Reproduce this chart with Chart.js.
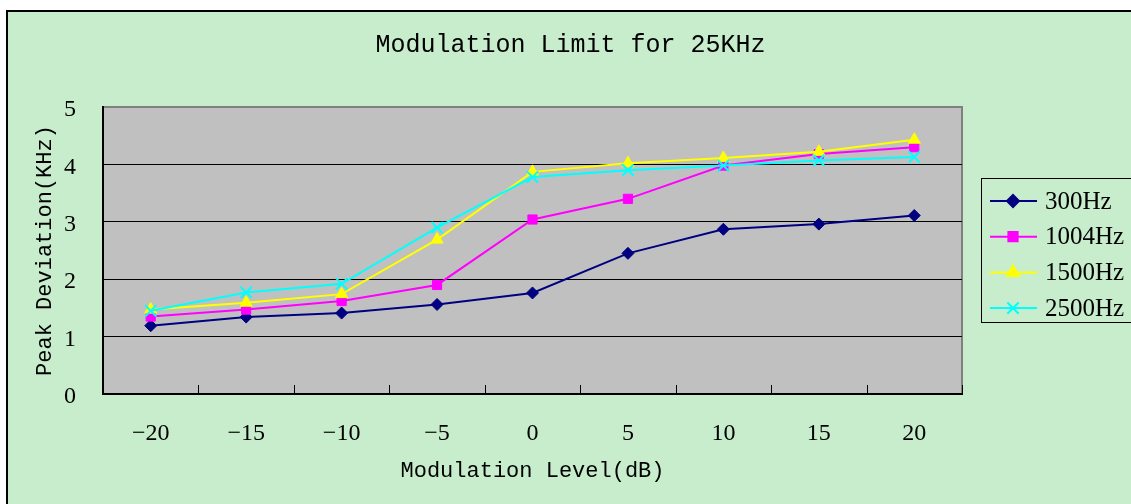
<!DOCTYPE html>
<html><head><meta charset="utf-8">
<script src="https://cdn.jsdelivr.net/npm/chart.js@4/dist/chart.umd.min.js"></script>
<style>
html,body{margin:0;padding:0;background:#fff;overflow:hidden;width:1131px;height:504px}
#frame{position:absolute;left:6px;top:10px;width:1200px;height:600px;background:#C7EDCC;border:2px solid #000;}
#c{position:absolute;left:0;top:0}
</style></head><body>
<div id="frame"></div>
<canvas id="c" width="1131" height="504"></canvas>
<script>
const categories = ['\u221220','\u221215','\u221210','\u22125','0','5','10','15','20'];
const hz300  = [1.19,1.34,1.41,1.56,1.76,2.45,2.87,2.96,3.11];
const hz1004 = [1.35,1.47,1.62,1.90,3.04,3.40,3.98,4.18,4.30];
const hz1500 = [1.47,1.59,1.74,2.69,3.87,4.02,4.11,4.22,4.43];
const hz2500 = [1.45,1.77,1.92,2.90,3.78,3.90,3.98,4.07,4.13];
const seriesNames = ['300Hz','1004Hz','1500Hz','2500Hz'];
const yMin = 0, yMax = 5, yStep = 1;

const seriesStyles = [
  {color:'#000080', pointStyle:'rectRot', radius:6},
  {color:'#FF00FF', pointStyle:'rect', radius:6.5},
  {color:'#FFFF00', pointStyle:'triangle', radius:7},
  {color:'#00FFFF', pointStyle:'crossRot', radius:8}
];
const seriesData = [hz300, hz1004, hz1500, hz2500];

const datasets = seriesData.map((d,i)=>({
  label: seriesNames[i],
  data: d,
  yAxisID: 'y',
  borderColor: seriesStyles[i].color,
  backgroundColor: seriesStyles[i].color,
  pointBackgroundColor: seriesStyles[i].color,
  pointBorderColor: seriesStyles[i].color,
  pointStyle: seriesStyles[i].pointStyle,
  pointRadius: seriesStyles[i].radius,
  pointBorderWidth: seriesStyles[i].pointStyle==='crossRot'?2:1,
  borderWidth: 2,
  tension: 0,
  fill: false,
  order: 4 - i
}));

const plotDeco = {
  id:'plotDeco',
  beforeDraw(chart){
    const {ctx, chartArea:a} = chart;
    ctx.save();
    ctx.fillStyle = '#C0C0C0';
    ctx.fillRect(a.left, a.top, a.right-a.left, a.bottom-a.top);
    ctx.strokeStyle = '#808080';
    ctx.lineWidth = 2;
    ctx.strokeRect(a.left, a.top, a.right-a.left, a.bottom-a.top);
    ctx.restore();
  },
  beforeDatasetsDraw(chart){
    const {ctx, chartArea:a, scales:{x}} = chart;
    const half = (x.getPixelForValue(1) - x.getPixelForValue(0))/2;
    ctx.save();
    ctx.strokeStyle = '#000';
    ctx.lineWidth = 1;
    for (let i=0;i<categories.length;i++){
      const px = Math.round(x.getPixelForValue(i) + half) + 0.5;
      ctx.beginPath();
      ctx.moveTo(px, a.bottom);
      ctx.lineTo(px, a.bottom - 9);
      ctx.stroke();
    }
    ctx.restore();
  },
  afterDraw(chart){
    const {ctx} = chart;
    const box = {x:981, y:178, w:200, h:144};
    ctx.save();
    ctx.strokeStyle = '#000';
    ctx.lineWidth = 1;
    ctx.strokeRect(box.x+0.5, box.y+0.5, box.w, box.h);
    ctx.font = '25px "Liberation Serif", serif';
    ctx.textBaseline = 'middle';
    ctx.textAlign = 'left';
    const rowH = 35.7;
    chart.data.datasets.forEach((ds,i)=>{
      const cy = box.y + 23 + i*rowH;
      ctx.strokeStyle = ds.borderColor;
      ctx.fillStyle = ds.borderColor;
      ctx.lineWidth = 2;
      ctx.beginPath();
      ctx.moveTo(990, cy); ctx.lineTo(1037, cy);
      ctx.stroke();
      Chart.helpers.drawPoint(ctx, {pointStyle: ds.pointStyle, radius: ds.pointRadius, rotation:0, borderWidth: ds.pointBorderWidth}, 1013, cy);
      ctx.fillStyle = '#000';
      ctx.fillText(ds.label, 1045, cy+1);
    });
    ctx.restore();
  }
};

new Chart(document.getElementById('c'), {
  type:'line',
  data:{labels: categories, datasets},
  plugins:[plotDeco],
  options:{
    responsive:false, animation:false,
    layout:{padding:{left:10,right:0,top:0,bottom:0}},
    plugins:{
      legend:{display:false},
      tooltip:{enabled:false},
      title:{display:true, text:'Modulation Limit for 25KHz', color:'#000',
        font:{family:'"Liberation Mono", monospace', size:25, weight:'normal'},
        padding:{top:30, bottom:47}}
    },
    scales:{
      x:{
        type:'category', offset:true,
        grid:{display:false, drawTicks:false},
        border:{display:true, color:'#000', width:2},
        ticks:{color:'#000', font:{family:'"Liberation Serif", serif', size:24}, padding:25, maxRotation:0, autoSkip:false},
        title:{display:true, text:'Modulation Level(dB)', color:'#000',
          font:{family:'"Liberation Mono", monospace', size:22}, padding:{top:0,bottom:20}},
        afterFit(s){ s.height = 110; }
      },
      y:{
        position:'left',
        min:yMin, max:yMax,
        ticks:{stepSize:yStep, color:'#000', font:{family:'"Liberation Serif", serif', size:24}, padding:27, labelOffset:3},
        grid:{color:(c)=> (c.tick && c.tick.value>yMin && c.tick.value<yMax) ? '#000' : 'rgba(0,0,0,0)', drawTicks:false, lineWidth:1},
        border:{display:true, color:'#000', width:2},
        title:{display:true, text:'Peak Deviation(KHz)', color:'#000',
          font:{family:'"Liberation Mono", monospace', size:22}, padding:{top:22,bottom:0}},
        afterFit(s){ s.width = 93; }
      },
      legendSpace:{
        type:'linear', position:'right', display:true,
        min:yMin, max:yMax,
        grid:{display:false, drawTicks:false},
        border:{display:false},
        ticks:{display:false},
        afterFit(s){ s.width = 169; }
      }
    }
  }
});
</script>
</body></html>
